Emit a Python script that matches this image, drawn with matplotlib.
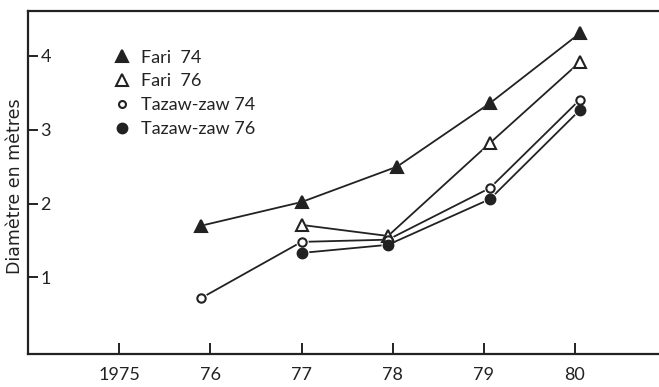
import matplotlib
matplotlib.use("Agg")
import matplotlib.pyplot as plt
from matplotlib.lines import Line2D

plt.rcParams['font.family'] = ['Lato', 'DejaVu Sans']

years = [1975.9, 1977.0, 1978.05, 1979.07, 1980.06]
fari74 = [1.70, 2.02, 2.50, 3.36, 4.31]
fari76_x = [1977.0, 1977.95, 1979.07, 1980.06]
fari76 = [1.71, 1.56, 2.82, 3.92]
taz74_x = [1975.9, 1977.0, 1977.95, 1979.07, 1980.06]
taz74 = [0.72, 1.48, 1.51, 2.21, 3.41]
taz76_x = [1977.0, 1977.95, 1979.07, 1980.06]
taz76 = [1.33, 1.44, 2.06, 3.27]
labels = ["Fari  74", "Fari  76", "Tazaw-zaw 74", "Tazaw-zaw 76"]
xticks = [1975, 1976, 1977, 1978, 1979, 1980]
xticklabels = ["1975", "76", "77", "78", "79", "80"]
yticks = [1, 2, 3, 4]

ink = "#222222"
fig = plt.figure(figsize=(6.59, 3.87), dpi=100)
ax = fig.add_axes([28/659, 1 - 354/387, 1 - 28/659 + 0.01, (354 - 11)/387])

series = [
    (years, fari74, '^', ink, 8.5),
    (fari76_x, fari76, '^', 'white', 8.0),
    (taz74_x, taz74, 'o', 'white', 6.0),
    (taz76_x, taz76, 'o', ink, 7.0),
]
for x, y, m, fc, ms in series:
    ax.plot(x, y, '-', color=ink, lw=1.3, zorder=2)
for x, y, m, fc, ms in series:
    ax.plot(x, y, linestyle='none', marker=m, ms=ms + 3, mfc='white', mec='white', mew=0, zorder=3)
for x, y, m, fc, ms in series:
    ax.plot(x, y, linestyle='none', marker=m, ms=ms, mfc=fc, mec=ink, mew=1.5, zorder=4)

ax.set_xlim(1973.995, 1981.0)
ax.set_ylim(-0.04, 4.61)
ax.set_xticks(xticks)
ax.set_xticklabels(xticklabels)
ax.set_yticks(yticks)
ax.set_yticklabels([str(v) for v in yticks])
for s in ['left', 'bottom', 'top']:
    ax.spines[s].set_linewidth(1.6)
    ax.spines[s].set_color(ink)
ax.spines['right'].set_visible(False)
ax.tick_params(axis='x', direction='in', length=8, width=1.4, color=ink, labelsize=13, pad=9, labelcolor=ink)
ax.tick_params(axis='y', direction='in', length=7, width=1.4, color=ink, labelsize=13, pad=-9, labelcolor=ink)
for lab in ax.get_yticklabels():
    lab.set_horizontalalignment('left')
ax.set_ylabel("Diamètre en mètres", fontsize=12.5, color=ink, family=['DejaVu Sans'])
ax.yaxis.set_label_coords(-0.006, 0.49)

handles = [Line2D([], [], linestyle='none', marker=m, ms=ms, mfc=fc, mec=ink, mew=1.5)
           for (_, _, m, fc, ms) in series]
handles[2] = Line2D([], [], linestyle='none', marker='o', ms=5, mfc='white', mec=ink, mew=1.5)
leg = ax.legend(handles, labels, loc='upper left', bbox_to_anchor=(0.118, 0.914), frameon=False,
                fontsize=13, labelspacing=0.44, handletextpad=0.5, handlelength=1.1, borderpad=0)
for t in leg.get_texts():
    t.set_color(ink)

fig.savefig("out.png", dpi=100)
